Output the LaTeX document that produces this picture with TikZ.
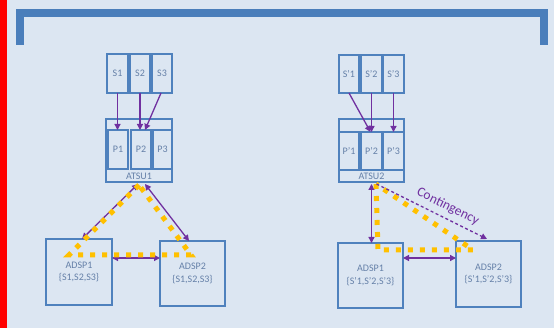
\documentclass[tikz,border=0pt]{standalone}
\usepackage{fontspec}
\setmainfont{Carlito}
\usetikzlibrary{arrows.meta,calc}
\definecolor{bg}{HTML}{DCE6F2}
\definecolor{framec}{HTML}{4A7EBB}
\definecolor{boxc}{HTML}{4F81BD}
\definecolor{txtc}{HTML}{6580A8}
\definecolor{purp}{HTML}{7030A0}
\definecolor{gold}{HTML}{FFC000}
\begin{document}
\begin{tikzpicture}[x=1pt,y=-1pt,
 box/.style={draw=boxc, line width=1.3pt, inner sep=0pt, outer sep=0pt, text=txtc, font=\fontsize{10}{12.5}\selectfont, align=center},
 lbl/.style={text=txtc, inner sep=0pt, font=\fontsize{10}{12}\selectfont},
 arr/.style={draw=purp, line width=1.3pt, -{Triangle[length=6pt,width=6pt]}},
 darr/.style={draw=purp, line width=1.3pt, {Triangle[length=6pt,width=6pt]}-{Triangle[length=6pt,width=6pt]}},
 dots/.style={draw=gold, line width=5pt, dash pattern=on 5pt off 7pt}]
\useasboundingbox (0,0) rectangle (554,328);
\fill[bg] (0,0) rectangle (554,328);
\fill[red] (0,0) rectangle (7,328);
\draw[framec, line width=7.5pt, line join=miter] (20,45) -- (20,13) -- (544,13) -- (544,45);

% left group
\node[box, minimum width=21pt, minimum height=39pt] (S1) at (117.5,73.5) {S1};
\node[box, minimum width=20pt, minimum height=39pt] (S2) at (140,73.5) {S2};
\node[box, minimum width=20pt, minimum height=39pt] (S3) at (162,73.5) {S3};
\node[box, minimum width=66pt, minimum height=63pt] (atsu1) at (139,150.5) {};
\node[box, minimum width=20pt, minimum height=39pt] (P1) at (118,149.5) {P1};
\node[box, minimum width=20pt, minimum height=39pt] (P2) at (141,149.5) {P2};
\node[box, minimum width=19pt, minimum height=39pt] (P3) at (162.5,149.5) {P3};
\node[lbl] (atsu1l) at (139,176) {ATSU1};
\node[box, minimum width=66pt, minimum height=66pt] (adsp1) at (79,272) {ADSP1\\\{S1,S2,S3\}};
\node[box, minimum width=65pt, minimum height=65pt] (adsp2) at (192.5,273.5) {ADSP2\\\{S1,S2,S3\}};

% right group
\node[box, minimum width=20pt, minimum height=38pt] (Sp1) at (349,74) {S’1};
\node[box, minimum width=21pt, minimum height=38pt] (Sp2) at (371.5,74) {S’2};
\node[box, minimum width=21pt, minimum height=38pt] (Sp3) at (393.5,74) {S’3};
\node[box, minimum width=65pt, minimum height=63pt] (atsu2) at (371.5,150.5) {};
\node[box, minimum width=20pt, minimum height=38pt] (Pp1) at (349,151) {P’1};
\node[box, minimum width=21pt, minimum height=38pt] (Pp2) at (371.5,151) {P’2};
\node[box, minimum width=21pt, minimum height=38pt] (Pp3) at (393.5,151) {P’3};
\node[lbl] (atsu2l) at (371.5,176) {ATSU2};
\node[box, minimum width=65pt, minimum height=65pt] (adspp1) at (370.5,275.5) {ADSP1\\\{S’1,S’2,S’3\}};
\node[box, minimum width=65pt, minimum height=66pt] (adspp2) at (488.5,274) {ADSP2\\\{S’1,S’2,S’3\}};

% arrows left
\draw[arr] (S1.south) -- (S1.south |- P1.north);
\draw[arr] (S2.south) -- (S2.south |- P2.north);
\draw[arr] ([xshift=-1pt]S3.south) -- ([xshift=4pt]P2.north);
\draw[darr] ([xshift=-1pt,yshift=-2pt]atsu1.south) -- ([xshift=3pt]adsp1.north);
\draw[darr] ([xshift=6pt,yshift=-2pt]atsu1.south) -- ([xshift=-3.5pt]adsp2.north);
\draw[darr] ([yshift=14pt]adsp1.east) -- ([yshift=14pt]adsp1.east -| adsp2.west);

% arrows right
\draw[arr] (Sp1.south) -- ([xshift=-1pt]Pp2.north);
\draw[arr] (Sp2.south) -- (Pp2.north);
\draw[arr] (Sp3.south) -- (Pp3.north);
\draw[darr] ([yshift=-2pt]atsu2.south) -- (atsu2.south |- adspp1.north);
\draw[darr] ([yshift=17.5pt]adspp1.east) -- ([yshift=17.5pt]adspp1.east -| adspp2.west);

% yellow dotted triangles
\coordinate (ta) at (139,185);
\coordinate (tl) at (69,255);
\coordinate (tr) at (191,255);
\draw[dots] (ta) -- (tl) -- (tr) -- cycle;
\coordinate (ua) at (376,184);
\coordinate (ul) at (378,250);
\coordinate (ur) at (473,250);
\draw[dots] (ua) -- (ul) -- (ur) -- cycle;

% contingency
\draw[arr, dash pattern=on 3pt off 2.5pt] ([xshift=5pt,yshift=-2pt]atsu2.south) -- ([xshift=-1.5pt,yshift=2pt]adspp2.north)
  node[pos=0.6, above=5pt, sloped, text=purp, font=\fontsize{13.5}{15}\selectfont, inner sep=0pt] (cont) {Contingency};
\end{tikzpicture}
\end{document}
